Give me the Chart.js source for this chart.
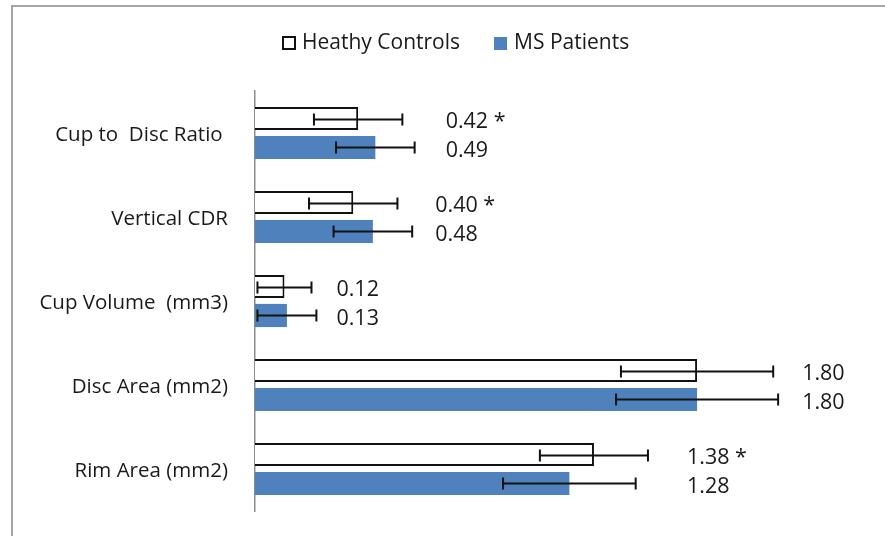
<!DOCTYPE html>
<html>
<head>
<meta charset="utf-8">
<script src="https://cdn.jsdelivr.net/npm/chart.js@4.4.1/dist/chart.umd.min.js"></script>
<style>
  html, body { margin: 0; padding: 0; background: #fff; }
  #wrap { position: relative; width: 885px; height: 536px; overflow: hidden; }
  #frame { position: absolute; left: 11px; top: 5px; width: 900px; height: 600px;
           border: 2px solid #a5a5a5; box-sizing: border-box; }
  canvas { position: absolute; left: 0; top: 0; }
</style>
</head>
<body>
<div id="wrap">
  <div id="frame"></div>
  <canvas id="c" width="885" height="536"></canvas>
</div>
<script>
// Optic nerve head parameters: healthy controls vs MS patients (mean ± SD)
const categories   = ['Cup to  Disc Ratio ', 'Vertical CDR', 'Cup Volume  (mm3)', 'Disc Area (mm2)', 'Rim Area (mm2)'];
const controls     = [0.42, 0.40, 0.12, 1.80, 1.38];
const patients     = [0.49, 0.48, 0.13, 1.80, 1.28];
const controlsSD   = [0.18, 0.18, 0.11, 0.31, 0.22];
const patientsSD   = [0.16, 0.16, 0.12, 0.33, 0.27];
const significant  = [true, true, false, false, true];
const seriesNames  = ['Heathy Controls', 'MS Patients'];

const FONT = 'Open Sans';
const TEXT = '#1a1a1a';
const BLUE = '#4f81bd';

// Error bars with end caps, plus value labels to the right of each pair
const errorBars = {
  id: 'errorBars',
  afterDatasetsDraw(chart, args, opts) {
    const { ctx } = chart;
    const x = chart.scales.x;
    ctx.save();
    ctx.strokeStyle = '#111';
    ctx.lineWidth = 2;
    const ends = [];
    chart.data.datasets.forEach((ds, di) => {
      const meta = chart.getDatasetMeta(di);
      meta.data.forEach((bar, i) => {
        const v = ds.data[i], e = ds.sd[i];
        const lo = x.getPixelForValue(v - e), hi = x.getPixelForValue(v + e);
        ends[i] = Math.max(ends[i] || 0, hi);
        const y = Math.round(bar.y) + 0.5;
        ctx.beginPath();
        ctx.moveTo(lo, y); ctx.lineTo(hi, y);
        ctx.moveTo(lo, y - 6); ctx.lineTo(lo, y + 6);
        ctx.moveTo(hi, y - 6); ctx.lineTo(hi, y + 6);
        ctx.stroke();
      });
    });
    ctx.fillStyle = TEXT;
    ctx.font = `${opts.fontSize}px "${FONT}"`;
    ctx.textAlign = 'left';
    ctx.textBaseline = 'middle';
    chart.data.datasets.forEach((ds, di) => {
      const meta = chart.getDatasetMeta(di);
      meta.data.forEach((bar, i) => {
        let t = ds.data[i].toFixed(2);
        if (di === 0 && significant[i]) t += ' *';
        ctx.fillText(t, ends[i] + opts.gap[i], bar.y + 3);
      });
    });
    ctx.restore();
  }
};

// Legend row across the top
const topLegend = {
  id: 'topLegend',
  afterDraw(chart, args, opts) {
    const { ctx } = chart;
    ctx.save();
    ctx.font = `${opts.fontSize}px "${FONT}"`;
    ctx.textBaseline = 'middle';
    let x = opts.x;
    const y = opts.y;
    const b = opts.box;
    chart.data.datasets.forEach((ds, di) => {
      if (di === 0) {
        ctx.fillStyle = '#fff';
        ctx.fillRect(x, y - b / 2, b, b);
        ctx.strokeStyle = '#111';
        ctx.lineWidth = 2;
        ctx.strokeRect(x + 1, y - b / 2 + 1, b - 2, b - 2);
      } else {
        ctx.fillStyle = ds.backgroundColor;
        ctx.fillRect(x, y - b / 2 + 1, b - 1, b - 1);
      }
      ctx.fillStyle = TEXT;
      ctx.fillText(ds.label, x + b + 6, y);
      x += b + 6 + ctx.measureText(ds.label).width + 34;
    });
    ctx.restore();
  }
};

new Chart(document.getElementById('c'), {
  type: 'bar',
  data: {
    labels: categories,
    datasets: [
      { label: seriesNames[0], data: controls, sd: controlsSD,
        backgroundColor: '#ffffff', borderColor: '#111', borderWidth: 2 },
      { label: seriesNames[1], data: patients, sd: patientsSD,
        backgroundColor: BLUE, borderWidth: 0 }
    ]
  },
  options: {
    indexAxis: 'y',
    responsive: false,
    animation: false,
    layout: { padding: { left: 12, right: 16, top: 91, bottom: 25 } },
    datasets: { bar: { categoryPercentage: 0.69, barPercentage: 0.8 } },
    scales: {
      x: { display: false, min: 0, max: 2.5 },
      y: {
        grid: { display: false, drawTicks: false },
        border: { color: '#8c8c8c', width: 1.5 },
        ticks: { padding: 27, labelOffset: 2, color: TEXT, font: { family: FONT, size: 20.5 } },
        afterFit(s) { s.width = 255 - 12; s.paddingTop = 0; s.paddingBottom = 0; }
      }
    },
    plugins: {
      legend: { display: false },
      tooltip: { enabled: false },
      errorBars: { fontSize: 21.5, gap: [31, 23, 20, 24, 39] },
      topLegend: { x: 282, y: 43, box: 14, fontSize: 21 }
    }
  },
  plugins: [errorBars, topLegend]
});
</script>
</body>
</html>
